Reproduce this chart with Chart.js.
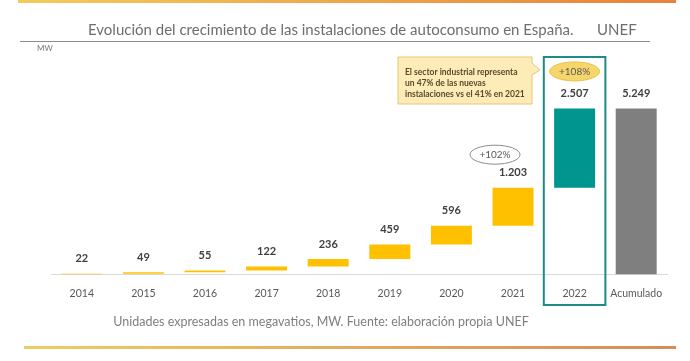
<!DOCTYPE html>
<html>
<head>
<meta charset="utf-8">
<script src="https://cdn.jsdelivr.net/npm/chart.js@4.4.1/dist/chart.umd.min.js"></script>
<style>
  html, body { margin: 0; padding: 0; background: #fff; }
</style>
</head>
<body>
<canvas id="chart" width="690" height="361"></canvas>
<script>
const categories = ['2014', '2015', '2016', '2017', '2018', '2019', '2020', '2021', '2022', 'Acumulado'];
const yearlyMW = [22, 49, 55, 122, 236, 459, 596, 1203, 2507];
const accumulatedMW = [5249];
const growthLabels = ['', '', '', '', '', '', '', '+102%', '+108%', ''];
const barColors = ['#FFC000', '#FFC000', '#FFC000', '#FFC000', '#FFC000', '#FFC000', '#FFC000', '#FFC000', '#00968F', '#7F7F7F'];
const calloutLines = ['El sector industrial representa', 'un 47% de las nuevas', 'instalaciones vs el 41% en 2021'];
const titleText = 'Evolución del crecimiento de las instalaciones de autoconsumo en España.';
const titleBrand = 'UNEF';
const footerText = 'Unidades expresadas en megavatios, MW. Fuente: elaboración propia UNEF';

// waterfall: each year floats on top of the running total
let running = 0;
const floating = yearlyMW.map(v => {
  const seg = [running, running + v];
  running += v;
  return seg;
});
floating.push([0, accumulatedMW[0]]);
const shownValues = yearlyMW.concat(accumulatedMW);

function fmt(v) {
  return String(v).replace(/\B(?=(\d{3})+(?!\d))/g, '.');
}

const decor = {
  id: 'decor',
  beforeDraw(chart) {
    const c = chart.ctx;
    c.save();
    // top and bottom gradient rules
    let g = c.createLinearGradient(18, 0, 676, 0);
    g.addColorStop(0, '#F4CB5C');
    g.addColorStop(1, '#E8813C');
    c.fillStyle = g;
    c.fillRect(18, 0, 658, 3);
    g = c.createLinearGradient(24, 0, 676, 0);
    g.addColorStop(0, '#EFCB66');
    g.addColorStop(1, '#D98A56');
    c.fillStyle = g;
    c.fillRect(24, 346, 652, 3);

    // title
    c.fillStyle = '#6E6E6E';
    c.font = '15px Lato';
    c.textBaseline = 'middle';
    c.textAlign = 'left';
    c.fillText(titleText, 88, 30);
    c.fillText(titleBrand, 597, 30);
    c.strokeStyle = '#8C8C8C';
    c.lineWidth = 1;
    c.beginPath();
    c.moveTo(20, 41.5);
    c.lineTo(650, 41.5);
    c.stroke();

    c.fillStyle = '#777777';
    c.font = '8px Lato';
    c.fillText('MW', 37, 48);

    // footer
    c.fillStyle = '#7F7F7F';
    c.font = '12.5px Lato';
    c.textAlign = 'center';
    c.fillText(footerText, 321, 322);
    c.restore();
  },
  afterDatasetsDraw(chart) {
    const c = chart.ctx;
    const x = chart.scales.x;
    const meta = chart.getDatasetMeta(0);
    const step = x.getPixelForValue(1) - x.getPixelForValue(0);
    c.save();

    // highlight frame around 2022
    const hx = x.getPixelForValue(8);
    c.strokeStyle = '#1F8A86';
    c.lineWidth = 2;
    c.strokeRect(hx - step / 2, 57, step, 248);

    // value labels
    c.fillStyle = '#404040';
    c.font = 'bold 11px Lato';
    c.textAlign = 'center';
    c.textBaseline = 'middle';
    const labelY = [];
    meta.data.forEach((bar, i) => {
      const top = Math.min(bar.y, bar.base);
      const y = top - 15;
      labelY.push(y);
      c.fillText(fmt(shownValues[i]), bar.x, y);
    });

    // growth ellipses
    growthLabels.forEach((txt, i) => {
      if (!txt) return;
      const bar = meta.data[i];
      const highlighted = i === 8;
      const cx = highlighted ? bar.x : bar.x - 18;
      const cy = labelY[i] - (highlighted ? 22 : 18);
      c.beginPath();
      c.ellipse(cx, cy, 25, 9.5, 0, 0, Math.PI * 2);
      c.fillStyle = highlighted ? '#F6D56A' : '#FFFFFF';
      c.fill();
      c.strokeStyle = highlighted ? '#E9C04A' : '#8C8C8C';
      c.lineWidth = 1;
      c.stroke();
      c.fillStyle = '#595959';
      c.font = '10px Lato';
      c.fillText(txt, cx, cy);
    });

    // callout box pointing at the 2022 growth
    c.beginPath();
    c.moveTo(398, 57);
    c.lineTo(532, 57);
    c.lineTo(532, 63);
    c.lineTo(540, 70);
    c.lineTo(532, 75);
    c.lineTo(532, 104);
    c.lineTo(398, 104);
    c.closePath();
    c.fillStyle = '#FDEBB8';
    c.fill();
    c.strokeStyle = '#EBC574';
    c.lineWidth = 1;
    c.stroke();
    c.fillStyle = '#5A4A2A';
    c.font = 'bold 8.5px Lato';
    c.textAlign = 'left';
    calloutLines.forEach((l, k) => c.fillText(l, 405, 72 + k * 11));

    c.restore();
  }
};

new Chart(document.getElementById('chart'), {
  type: 'bar',
  data: {
    labels: categories,
    datasets: [{
      data: floating,
      backgroundColor: barColors,
      borderWidth: 0,
      barPercentage: 0.665,
      categoryPercentage: 1
    }]
  },
  options: {
    responsive: false,
    animation: false,
    layout: { padding: { left: 51, right: 23, top: 53, bottom: 48 } },
    plugins: { legend: { display: false }, tooltip: { enabled: false } },
    scales: {
      x: {
        grid: { display: false, drawTicks: false },
        border: { display: true, color: '#D9D9D9' },
        ticks: { color: '#595959', font: { family: 'Lato', size: 10.5 }, padding: 13 }
      },
      y: { display: false, min: 0, max: 7000 }
    }
  },
  plugins: [decor]
});
</script>
</body>
</html>
